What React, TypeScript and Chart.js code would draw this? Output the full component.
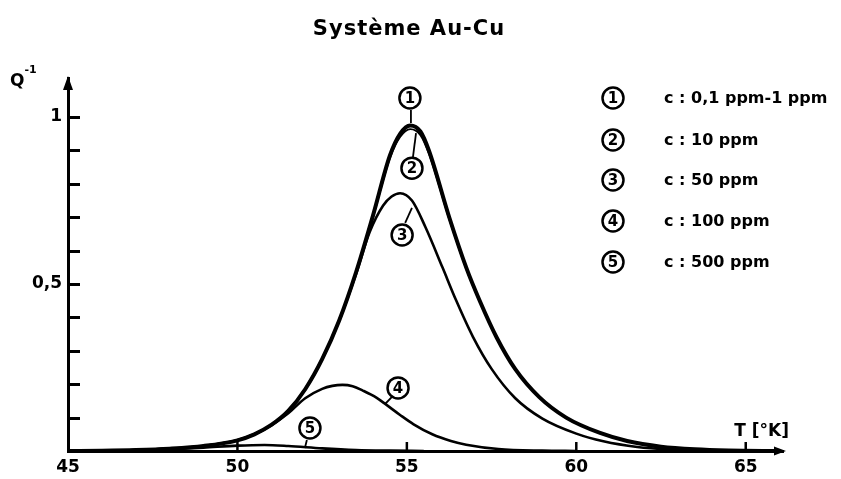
import React, { useEffect, useRef } from 'react';
import { Chart, registerables } from 'chart.js';

Chart.register(...registerables);

// ---- text ----
const TITLE = 'Système Au-Cu';
const Y_LABEL = 'Q';
const Y_LABEL_SUP = '-1';
const X_LABEL = 'T [°K]';
const SERIES_NUMBERS = ['1', '2', '3', '4', '5'];
const SERIES_LABELS = ['c : 0,1 ppm-1 ppm', 'c : 10 ppm', 'c : 50 ppm', 'c : 100 ppm', 'c : 500 ppm'];

// ---- axes ----
const X_MIN = 45;
const X_MAX = 66.1;
const Y_MIN = 0;
const Y_MAX = 1.117;
const X_TICK_LABELS = [45, 50, 55, 60, 65];
const X_TICK_MARKS = [50, 55, 60, 65];
const Y_TICK_VALUES = [0.5, 1];
const Y_TICK_TEXT = ['0,5', '1'];
const Y_TICK_MARKS = [0.1, 0.2, 0.3, 0.4, 0.5, 0.6, 0.7, 0.8, 0.9, 1.0];

// ---- series (T in K, Q^-1 relative) ----
const c1T = [45, 46, 47, 48, 49, 50, 50.5, 51, 51.5, 52, 52.5, 53, 53.5, 54, 54.5, 54.8, 55.1, 55.4, 55.65, 56.25, 56.75, 57.15, 57.65, 58.2, 58.9, 59.7, 60.7, 61.5, 62.5, 63.5, 64.5, 66];
const c1Q = [0, 0.001, 0.003, 0.007, 0.015, 0.032, 0.05, 0.078, 0.12, 0.185, 0.275, 0.39, 0.535, 0.705, 0.885, 0.95, 0.975, 0.957, 0.9, 0.7, 0.55, 0.45, 0.34, 0.245, 0.162, 0.1, 0.054, 0.03, 0.013, 0.005, 0.0015, 0];

const c2T = [45, 46, 47, 48, 49, 50, 50.5, 51, 51.5, 52, 52.5, 53, 53.5, 54, 54.5, 54.8, 55.1, 55.4, 55.65, 56.25, 56.75, 57.15, 57.65, 58.2, 58.9, 59.7, 60.7, 61.5, 62.5, 63.5, 64.5, 66];
const c2Q = [0, 0.001, 0.003, 0.007, 0.015, 0.032, 0.05, 0.078, 0.12, 0.185, 0.275, 0.389, 0.532, 0.7, 0.877, 0.94, 0.964, 0.946, 0.89, 0.694, 0.546, 0.447, 0.338, 0.244, 0.161, 0.0995, 0.0535, 0.03, 0.013, 0.005, 0.0015, 0];

const c3T = [45, 46, 47, 48, 49, 50, 50.5, 51, 51.5, 52, 52.5, 53, 53.5, 53.9, 54.3, 54.55, 54.8, 55.15, 55.55, 56.05, 56.45, 56.95, 57.5, 58.2, 59.0, 60.0, 60.8, 61.8, 62.8, 64, 66];
const c3Q = [0, 0.001, 0.003, 0.007, 0.015, 0.032, 0.05, 0.078, 0.12, 0.185, 0.275, 0.39, 0.53, 0.655, 0.735, 0.762, 0.772, 0.75, 0.67, 0.55, 0.452, 0.342, 0.246, 0.158, 0.097, 0.052, 0.029, 0.012, 0.0045, 0.001, 0];

const c4T = [45, 46, 47, 48, 49, 50, 50.5, 51, 51.5, 52, 52.5, 52.8, 53.1, 53.4, 53.7, 54.1, 54.4, 54.8, 55.2, 55.75, 56.3, 56.75, 57.7, 59, 60];
const c4Q = [0, 0.001, 0.003, 0.007, 0.015, 0.032, 0.05, 0.077, 0.113, 0.158, 0.186, 0.195, 0.198, 0.194, 0.181, 0.16, 0.138, 0.108, 0.08, 0.05, 0.03, 0.019, 0.006, 0.001, 0];

const c5T = [45, 46, 47, 48, 49, 50, 50.8, 51.5, 52.5, 53.5, 54.5, 55.5];
const c5Q = [0, 0.0005, 0.002, 0.005, 0.01, 0.016, 0.018, 0.015, 0.008, 0.003, 0.001, 0];

const SERIES_T = [c1T, c2T, c3T, c4T, c5T];
const SERIES_Q = [c1Q, c2Q, c3Q, c4Q, c5Q];
const SERIES_WIDTH = [4, 1.8, 2.6, 2.6, 2.6];

// ---- curve markers (data units): circle centre and leader line ----
const MARK_T = [55.09, 55.15, 54.86, 54.74, 52.14];
const MARK_Q = [1.057, 0.847, 0.647, 0.189, 0.069];
const LEAD_T0 = [55.12, 55.18, 54.95, 54.56, 52.05];
const LEAD_Q0 = [1.021, 0.88, 0.683, 0.162, 0.033];
const LEAD_T1 = [55.12, 55.27, 55.15, 54.35, 51.99];
const LEAD_Q1 = [0.982, 0.952, 0.728, 0.14, 0.009];

const FONT = '"DejaVu Sans", "Liberation Sans", sans-serif';

function circledNumber(ctx: CanvasRenderingContext2D, cx: number, cy: number, txt: string) {
  ctx.save();
  ctx.fillStyle = '#fff';
  ctx.strokeStyle = '#000';
  ctx.lineWidth = 2.5;
  ctx.beginPath();
  ctx.arc(cx, cy, 10.5, 0, Math.PI * 2);
  ctx.fill();
  ctx.stroke();
  ctx.fillStyle = '#000';
  ctx.font = `bold 15px ${FONT}`;
  ctx.textAlign = 'center';
  ctx.textBaseline = 'middle';
  ctx.fillText(txt, cx, cy + 1);
  ctx.restore();
}

const overlayPlugin = {
  id: 'overlay',
  afterDraw(chart: any) {
    const ctx: CanvasRenderingContext2D = chart.ctx;
    const { left, right, top, bottom } = chart.chartArea;
    const xs = chart.scales.x;
    const ys = chart.scales.y;
    ctx.save();
    ctx.strokeStyle = '#000';
    ctx.fillStyle = '#000';
    ctx.lineCap = 'butt';

    // y minor ticks (inside)
    ctx.lineWidth = 3;
    Y_TICK_MARKS.forEach((v) => {
      const py = Math.round(ys.getPixelForValue(v)) + 0.5;
      ctx.beginPath();
      ctx.moveTo(left, py);
      ctx.lineTo(left + 12, py);
      ctx.stroke();
    });
    // x ticks (inside)
    ctx.lineWidth = 2.5;
    X_TICK_MARKS.forEach((v) => {
      const px = xs.getPixelForValue(v);
      ctx.beginPath();
      ctx.moveTo(px, bottom);
      ctx.lineTo(px, bottom - 9);
      ctx.stroke();
    });

    // arrows
    ctx.beginPath();
    ctx.moveTo(left, top - 2);
    ctx.lineTo(left - 5, top + 12);
    ctx.lineTo(left + 5, top + 12);
    ctx.closePath();
    ctx.fill();
    ctx.beginPath();
    ctx.moveTo(right + 3, bottom);
    ctx.lineTo(right - 9, bottom - 4.5);
    ctx.lineTo(right - 9, bottom + 4.5);
    ctx.closePath();
    ctx.fill();

    // title
    ctx.font = `bold 21px ${FONT}`;
    (ctx as any).letterSpacing = '1px';
    ctx.textAlign = 'center';
    ctx.textBaseline = 'middle';
    ctx.fillText(TITLE, 409, 30);
    (ctx as any).letterSpacing = '0px';

    // y axis label Q^-1
    ctx.textAlign = 'left';
    ctx.textBaseline = 'alphabetic';
    ctx.font = `bold 17px ${FONT}`;
    ctx.fillText(Y_LABEL, 10, 86);
    const qW = ctx.measureText(Y_LABEL).width;
    ctx.font = `bold 11px ${FONT}`;
    ctx.fillText(Y_LABEL_SUP, 10 + qW, 73);

    // x axis label
    ctx.font = `bold 17px ${FONT}`;
    ctx.textAlign = 'right';
    ctx.textBaseline = 'middle';
    ctx.fillText(X_LABEL, 789, 432);

    // leader lines + circled numbers on curves
    ctx.lineWidth = 1.8;
    for (let i = 0; i < MARK_T.length; i++) {
      ctx.beginPath();
      ctx.moveTo(xs.getPixelForValue(LEAD_T0[i]), ys.getPixelForValue(LEAD_Q0[i]));
      ctx.lineTo(xs.getPixelForValue(LEAD_T1[i]), ys.getPixelForValue(LEAD_Q1[i]));
      ctx.stroke();
    }
    for (let i = 0; i < MARK_T.length; i++) {
      circledNumber(ctx, xs.getPixelForValue(MARK_T[i]), ys.getPixelForValue(MARK_Q[i]), SERIES_NUMBERS[i]);
    }

    // legend
    const rowY = [98, 140, 180, 221, 262];
    for (let i = 0; i < SERIES_LABELS.length; i++) {
      circledNumber(ctx, 613, rowY[i], SERIES_NUMBERS[i]);
      ctx.fillStyle = '#000';
      ctx.font = `bold 16px ${FONT}`;
      ctx.textAlign = 'left';
      ctx.textBaseline = 'middle';
      ctx.fillText(SERIES_LABELS[i], 664, rowY[i] + 1);
    }
    ctx.restore();
  },
};

export default function App() {
  const ref = useRef<HTMLCanvasElement | null>(null);
  useEffect(() => {
    if (!ref.current) return;
    const datasets = SERIES_T.map((ts, i) => ({
      label: SERIES_LABELS[i],
      data: ts.map((t, j) => ({ x: t, y: SERIES_Q[i][j] })),
      borderColor: '#000',
      backgroundColor: '#000',
      borderWidth: SERIES_WIDTH[i],
      pointRadius: 0,
      fill: false,
      cubicInterpolationMode: 'monotone' as const,
    }));
    const chart = new Chart(ref.current, {
      type: 'line',
      data: { datasets },
      options: {
        responsive: false,
        animation: false,
        events: [],
        layout: { padding: { left: 0, right: 58, top: 78, bottom: 0 } },
        plugins: { legend: { display: false }, title: { display: false }, tooltip: { enabled: false } },
        scales: {
          x: {
            type: 'linear',
            min: X_MIN,
            max: X_MAX,
            grid: { display: false, drawTicks: false },
            border: { display: true, color: '#000', width: 3 },
            afterFit: (s: any) => { s.height = 28; },
            afterBuildTicks: (s: any) => { s.ticks = X_TICK_LABELS.map((v) => ({ value: v })); },
            ticks: {
              autoSkip: false,
              maxRotation: 0,
              padding: 6,
              color: '#000',
              font: { family: FONT, size: 17, weight: 'bold' },
              callback: (v: any) => String(v),
            },
          },
          y: {
            type: 'linear',
            min: Y_MIN,
            max: Y_MAX,
            grid: { display: false, drawTicks: false },
            border: { display: true, color: '#000', width: 3 },
            afterFit: (s: any) => { s.width = 68; },
            afterBuildTicks: (s: any) => { s.ticks = Y_TICK_VALUES.map((v) => ({ value: v })); },
            ticks: {
              autoSkip: false,
              padding: 6,
              color: '#000',
              font: { family: FONT, size: 17, weight: 'bold' },
              callback: (v: any) => {
                const k = Y_TICK_VALUES.findIndex((t) => Math.abs(t - Number(v)) < 1e-6);
                return k >= 0 ? Y_TICK_TEXT[k] : '';
              },
            },
          },
        },
      },
      plugins: [overlayPlugin],
    } as any);
    return () => chart.destroy();
  }, []);
  return (
    <div style={{ position: 'absolute', left: 0, top: 0, width: 841, height: 479, background: '#fff' }}>
      <canvas ref={ref} width={841} height={479} />
    </div>
  );
}
